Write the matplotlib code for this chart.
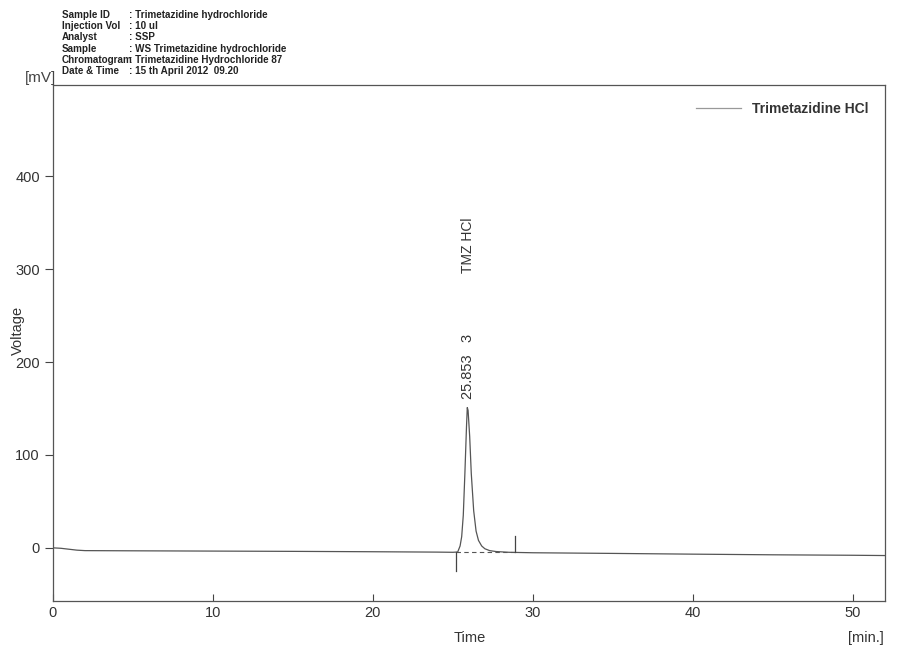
import matplotlib.pyplot as plt

plt.rcParams['font.family'] = ['Liberation Sans', 'DejaVu Sans']

# chromatogram trace (time in min, voltage in mV)
time = [0, 0.5, 1, 1.5, 2, 5, 10, 15, 20, 24, 25.0, 25.3, 25.45, 25.55, 25.65,
        25.75, 25.85, 25.9, 25.95, 26.05, 26.15, 26.3, 26.45, 26.6, 26.8, 27.0,
        27.3, 27.7, 28.5, 30, 35, 40, 45, 50, 52]
voltage = [0, -0.5, -1.5, -2.5, -3, -3.2, -3.5, -3.8, -4.2, -4.6, -4.8, -4.5, 2,
           12, 35, 80, 130, 151, 148, 120, 80, 40, 18, 8, 2, -1, -3, -4, -4.8,
           -5.3, -6, -6.8, -7.5, -8, -8.3]

# integration markers
peak_start, peak_end = 25.2, 28.9
start_marker = [-5, -25]
end_marker = [-5, 13]
baseline_y = [-4.9, -4.9]

peak_rt = 25.853
peak_label = "25.853   3"
peak_name = "TMZ HCl"

header_keys = ["Sample ID", "Injection Vol", "Analyst", "Sample", "Chromatogram", "Date & Time"]
header_vals = [": Trimetazidine hydrochloride", ": 10 ul", ": SSP",
               ": WS Trimetazidine hydrochloride",
               ": Trimetazidine Hydrochloride 87", ": 15 th April 2012  09.20"]

fig = plt.figure(figsize=(9.01, 6.46), dpi=100)
ax = fig.add_axes([0.0588, 0.07, 0.9232, 0.798])

ax.plot(time, voltage, color='#555555', lw=0.9, label='Trimetazidine HCl')
ax.plot([peak_start, peak_end], baseline_y, color='#555555', lw=0.8, ls=(0, (4, 3)))
ax.plot([peak_start, peak_start], start_marker, color='#444444', lw=0.9)
ax.plot([peak_end, peak_end], end_marker, color='#444444', lw=0.9)

ax.text(peak_rt + 0.1, 160, peak_label, rotation=90, ha='center', va='bottom',
        fontsize=10.5, color='#333333')
ax.text(peak_rt + 0.1, 296, peak_name, rotation=90, ha='center', va='bottom',
        fontsize=10, color='#333333')

ax.set_xlim(0, 52)
ax.set_ylim(-57, 498)
ax.set_xticks([0, 10, 20, 30, 40, 50])
ax.set_yticks([0, 100, 200, 300, 400])
ax.tick_params(axis='both', labelsize=10.5, colors='#444444', labelcolor='#333333')
ax.tick_params(axis='y', direction='out', length=6)
ax.tick_params(axis='x', direction='in', length=5, pad=4)
for s in ax.spines.values():
    s.set_color('#555555')
    s.set_linewidth(0.9)

fig.text(18 / 901, 1 - 330 / 646, 'Voltage', rotation=90, fontsize=10.5,
         color='#333333', ha='center', va='center')
fig.text(470 / 901, 1 - 638 / 646, 'Time', fontsize=10.5, color='#333333',
         ha='center', va='center')
fig.text(0.028, 0.868, '[mV]', fontsize=11, color='#444444', va='bottom')
fig.text(884 / 901, 1 - 638 / 646, '[min.]', fontsize=10.5, color='#333333',
         ha='right', va='center')

leg = ax.legend(loc='upper right', frameon=False, handlelength=3.2,
                prop={'weight': 'bold', 'size': 10}, borderaxespad=0.8)
leg.get_lines()[0].set_color('#999999')
leg.get_texts()[0].set_color('#333333')

for i, (k, v) in enumerate(zip(header_keys, header_vals)):
    y = 1 - (15 + 11.2 * i) / 646
    fig.text(62 / 901, y, k, fontsize=7.1, weight='bold', va='center', color='#222222')
    fig.text(129 / 901, y, v, fontsize=7.1, weight='bold', va='center', color='#222222')

fig.savefig('out.png', dpi=100)
